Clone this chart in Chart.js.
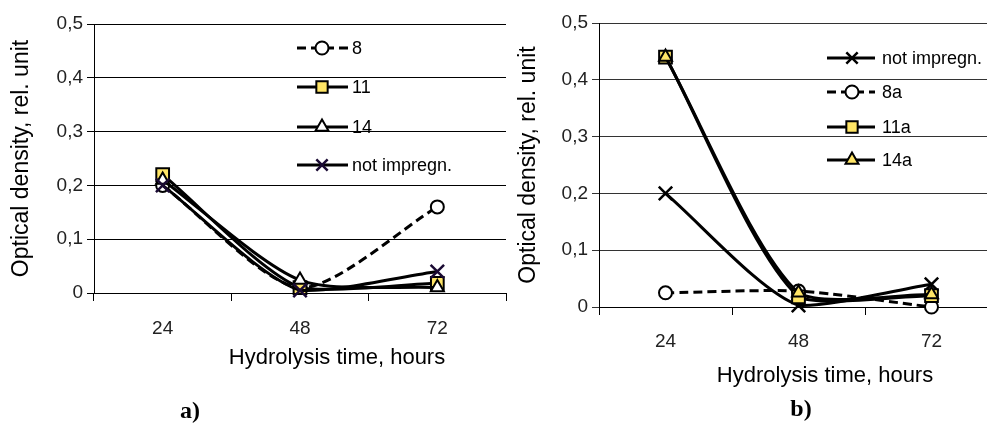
<!DOCTYPE html>
<html>
<head>
<meta charset="utf-8">
<script src="https://cdn.jsdelivr.net/npm/chart.js@4.4.1/dist/chart.umd.min.js"></script>
<style>
  html, body { margin: 0; padding: 0; background: #fff; }
  body { width: 987px; height: 423px; position: relative; overflow: hidden; font-family: "Liberation Sans", Arial, sans-serif; }
  .wrap { position: absolute; top: 0; }
  .xt { position: absolute; font-size: 22px; color: #000; white-space: nowrap; transform: translate(-50%, -50%); }
  .pl { position: absolute; font-family: "Liberation Serif", "Times New Roman", serif; font-weight: bold; font-size: 24px; color: #000; transform: translate(-50%, -50%); }
</style>
</head>
<body>
<div class="wrap" style="left:0;width:520px;height:423px;"><canvas id="ca" width="520" height="423"></canvas></div>
<div class="wrap" style="left:510px;width:500px;height:423px;"><canvas id="cb" width="500" height="423"></canvas></div>
<div class="xt" style="left:337px;top:357px;">Hydrolysis time, hours</div>
<div class="xt" style="left:825px;top:375px;">Hydrolysis time, hours</div>
<div class="pl" style="left:190px;top:410px;">a)</div>
<div class="pl" style="left:801px;top:408px;">b)</div>
<script>
// ---- data ----
const categories = ['24', '48', '72'];
const yTickLabels = ['0', '0,1', '0,2', '0,3', '0,4', '0,5'];
const yTitle = 'Optical density, rel. unit';

// chart a)
const labelsA = ['8', '11', '14', 'not impregn.'];
const a8 = [0.20, 0.010, 0.16];
const a11 = [0.22, 0.010, 0.018];
const a14 = [0.21, 0.024, 0.010];
const aNot = [0.20, 0.005, 0.040];

// chart b)
const labelsB = ['not impregn.', '8a', '11a', '14a'];
const bNot = [0.20, 0.003, 0.040];
const b8a = [0.025, 0.028, 0.0];
const b11a = [0.44, 0.018, 0.020];
const b14a = [0.44, 0.025, 0.022];

const FONT = '"Liberation Sans", Arial, sans-serif';
const YELLOW = '#ffe566';

function ds(label, data, style, fill, dashed, order, ptColor) {
  const r = { circle: 6.5, rect: 9, triangle: 7.5, crossRot: 9.5 }[style];
  return {
    label, data, order,
    borderColor: '#000', borderWidth: 3, borderDash: dashed ? [9, 5] : [],
    tension: 0.25, clip: false,
    pointStyle: style, pointRadius: r, pointHoverRadius: r,
    pointBackgroundColor: fill, pointBorderColor: ptColor || '#000',
    pointBorderWidth: style === 'crossRot' ? 2.5 : 2
  };
}

const legendPlugin = {
  id: 'inlegend',
  afterDatasetsDraw(chart, args, opts) {
    const ctx = chart.ctx;
    chart.data.datasets.forEach((d, i) => {
      const y = opts.ys[i];
      ctx.save();
      ctx.strokeStyle = '#000';
      ctx.lineWidth = 3;
      ctx.setLineDash(d.borderDash || []);
      ctx.beginPath();
      ctx.moveTo(opts.x0, y); ctx.lineTo(opts.x1, y);
      ctx.stroke();
      ctx.setLineDash([]);
      ctx.fillStyle = d.pointBackgroundColor;
      ctx.strokeStyle = d.pointBorderColor;
      ctx.lineWidth = d.pointBorderWidth;
      Chart.helpers.drawPoint(ctx, { pointStyle: d.pointStyle, radius: Math.min(d.pointRadius, 8), rotation: 0, borderWidth: d.pointBorderWidth }, opts.mx, y);
      ctx.fillStyle = '#000';
      ctx.font = '18px ' + FONT;
      ctx.textBaseline = 'middle';
      ctx.textAlign = 'left';
      ctx.fillText(d.label, opts.tx, y + 1);
      ctx.restore();
    });
  }
};

function makeOptions(p) {
  return {
    responsive: false, animation: false, devicePixelRatio: 1,
    layout: { padding: { left: p.padL, top: p.padT, right: p.padR, bottom: 0 } },
    plugins: { legend: { display: false }, tooltip: { enabled: false }, inlegend: p.legend },
    scales: {
      x: {
        type: 'category', offset: true,
        grid: { offset: true, drawOnChartArea: false, drawTicks: true, tickLength: 8, color: '#000', lineWidth: 1 },
        border: { display: true, color: '#000', width: 1 },
        ticks: { padding: p.xPad, color: '#222', font: { family: FONT, size: 19 }, maxRotation: 0 },
        afterFit: s => { s.height = p.xH; }
      },
      y: {
        min: 0, max: 0.5,
        ticks: { stepSize: 0.1, padding: 4, color: '#222', font: { family: FONT, size: 19 },
                 callback: (v, i) => yTickLabels[i] },
        grid: { color: p.gridColor, lineWidth: 1, tickLength: 7, drawTicks: true },
        border: { display: true, color: '#000', width: 1 },
        title: { display: true, text: yTitle, color: '#000', font: { family: FONT, size: 23 }, padding: 0 },
        afterFit: s => { s.width = p.yW; }
      }
    }
  };
}

new Chart(document.getElementById('ca'), {
  type: 'line',
  data: {
    labels: categories,
    datasets: [
      ds(labelsA[0], a8, 'circle', '#fff', true, 3),
      ds(labelsA[1], a11, 'rect', YELLOW, false, 2),
      ds(labelsA[2], a14, 'triangle', '#fff', false, 1),
      ds(labelsA[3], aNot, 'crossRot', '#fff', false, 0, '#1a0a33')
    ]
  },
  options: makeOptions({ padL: 8, padT: 24, padR: 14, xH: 130, xPad: 16, yW: 86, gridColor: '#000',
    legend: { x0: 297, x1: 348, mx: 322, tx: 352, ys: [48, 87, 127, 165] } }),
  plugins: [legendPlugin]
});

new Chart(document.getElementById('cb'), {
  type: 'line',
  data: {
    labels: categories,
    datasets: [
      ds(labelsB[0], bNot, 'crossRot', '#fff', false, 3),
      ds(labelsB[1], b8a, 'circle', '#fff', true, 2),
      ds(labelsB[2], b11a, 'rect', YELLOW, false, 1),
      ds(labelsB[3], b14a, 'triangle', YELLOW, false, 0)
    ]
  },
  options: makeOptions({ padL: 5, padT: 23, padR: 12, xH: 116, xPad: 15, yW: 84, gridColor: '#333',
    legend: { x0: 317, x1: 365, mx: 342, tx: 372, ys: [58, 92, 127, 160] } }),
  plugins: [legendPlugin]
});
</script>
</body>
</html>
